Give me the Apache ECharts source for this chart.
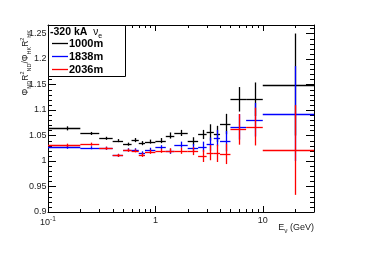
<!DOCTYPE html>
<html>
<head>
<meta charset="utf-8">
<script src="https://cdn.jsdelivr.net/npm/echarts@6/dist/echarts.min.js"></script>
<style>html,body{margin:0;padding:0;background:#fff}#c{width:374px;height:253px}</style>
</head>
<body>
<div id="c"></div>
<script>
// ---- data ----
const binLow    = [0.1,0.2,0.3,0.4,0.5,0.6,0.7,0.8,1.0,1.25,1.5,2.0,2.5,3.0,3.5,4.0,5.0,7.0,10];
const binHigh   = [0.2,0.3,0.4,0.5,0.6,0.7,0.8,1.0,1.25,1.5,2.0,2.5,3.0,3.5,4.0,5.0,7.0,10,30];
const binCenter = [0.15,0.25,0.35,0.45,0.55,0.65,0.75,0.9,1.125,1.375,1.75,2.25,2.75,3.25,3.75,4.5,6,8.5,20];

const seriesNames = ['1000m','1838m','2036m'];
const val1000 = [1.064,1.054,1.0445,1.040,1.033,1.041,1.035,1.038,1.040,1.050,1.055,1.0386,1.052,1.056,1.053,1.0725,1.121,1.121,1.150];
const err1000 = [0.004,0.003,0.003,0.003,0.003,0.004,0.004,0.004,0.005,0.006,0.006,0.008,0.009,0.016,0.016,0.020,0.024,0.033,0.100];
const val1838 = [1.027,1.026,1.025,1.011,1.022,1.022,1.015,1.022,1.027,1.019,1.032,1.0255,1.028,1.033,1.045,1.039,1.067,1.081,1.093];
const err1838 = [0.003,0.003,0.003,0.003,0.003,0.003,0.004,0.004,0.004,0.005,0.006,0.008,0.010,0.013,0.016,0.020,0.025,0.033,0.093];
const val2036 = [1.031,1.033,1.025,1.011,1.021,1.020,1.012,1.018,1.020,1.020,1.020,1.0196,1.010,1.0165,1.015,1.014,1.062,1.0675,1.0216];
const err2036 = [0.003,0.003,0.003,0.003,0.003,0.003,0.004,0.004,0.004,0.005,0.006,0.008,0.012,0.015,0.017,0.020,0.030,0.037,0.088];

const xMin = 0.1, xMax = 30;
const yMin = 0.9, yMax = 1.2667, yStep = 0.05;
const xMinorTicks = [0.2,0.3,0.4,0.5,0.6,0.7,0.8,0.9,2,3,4,5,6,7,8,9,20];
const yMinorTicks = [0.91,0.92,0.93,0.94,0.96,0.97,0.98,0.99,1.01,1.02,1.03,1.04,1.06,1.07,1.08,1.09,
                     1.11,1.12,1.13,1.14,1.16,1.17,1.18,1.19,1.21,1.22,1.23,1.24,1.26];

const legendHeader = '-320 kA';
const xTitle = 'E';
const FONT = 'Liberation Sans, Arial, Helvetica, sans-serif';

// ---- build ----
function mk(vals, errs){ return vals.map((v,i)=>[binLow[i],binHigh[i],binCenter[i],v,errs[i]]); }
function errRender(color){
  return function(params, api){
    const lo=api.value(0), hi=api.value(1), c=api.value(2), y=api.value(3), e=api.value(4);
    const pL=api.coord([lo,y]), pH=api.coord([hi,y]), pT=api.coord([c,y+e]), pB=api.coord([c,y-e]);
    const yy = Math.round(pL[1]) + 0.5, xx = Math.round(pT[0]) + 0.5;
    return {type:'group', children:[
      {type:'line', shape:{x1:pL[0],y1:yy,x2:pH[0],y2:yy}, style:{stroke:color,lineWidth:1.3}},
      {type:'line', shape:{x1:xx,y1:pT[1],x2:xx,y2:pB[1]}, style:{stroke:color,lineWidth:1.3}}
    ]};
  };
}
function errSeries(name, vals, errs, color, z){
  return {type:'custom', name, data:mk(vals,errs), renderItem:errRender(color),
    encode:{x:[0,1,2], y:[3]}, z, silent:true, clip:true};
}

const chart = echarts.init(document.getElementById('c'), null, {renderer:'canvas'});
const axisLine = {show:true, lineStyle:{color:'#000', width:1}};
chart.setOption({
  animation:false,
  backgroundColor:'#fff',
  grid:{left:48, top:25, right:60, bottom:41, show:false},
  xAxis:[
    {type:'log', logBase:10, min:xMin, max:xMax, position:'bottom',
     axisLine, splitLine:{show:false},
     axisTick:{show:true, inside:true, length:6, lineStyle:{color:'#000'}},
     axisLabel:{show:true, margin:4, color:'#222', fontFamily:FONT, fontSize:9, showMaxLabel:false,
       formatter:function(v){ if (v < 0.5) return '10{sup|-1}'; return String(Math.round(v)); },
       rich:{sup:{fontSize:6.5, verticalAlign:'top', fontFamily:FONT, color:'#222', padding:[0,0,6,0]}}}},
    {type:'log', logBase:10, min:xMin, max:xMax, position:'top',
     axisLine, splitLine:{show:false},
     axisTick:{show:true, inside:true, length:6, lineStyle:{color:'#000'}},
     axisLabel:{show:false}}
  ],
  yAxis:[
    {type:'value', min:yMin, max:yMax, interval:yStep, position:'left',
     axisLine, splitLine:{show:false},
     axisTick:{show:true, inside:true, length:8, lineStyle:{color:'#000'}},
     axisLabel:{show:true, margin:1.5, color:'#222', fontFamily:FONT, fontSize:9, showMaxLabel:false,
       formatter:function(v){ return String(+v.toFixed(2)); }}},
    {type:'value', min:yMin, max:yMax, interval:yStep, position:'right',
     axisLine, splitLine:{show:false},
     axisTick:{show:true, inside:true, length:8, lineStyle:{color:'#000'}},
     axisLabel:{show:false}}
  ],
  series:[
    {type:'custom', name:'xminor', data:xMinorTicks.map(v=>[v,1]), silent:true, z:5,
     encode:{x:0,y:1},
     renderItem:function(params, api){
       const p = api.coord([api.value(0), 1]); const cs = params.coordSys;
       const x = Math.round(p[0]) + 0.5, yb = cs.y + cs.height, yt = cs.y;
       return {type:'group', children:[
         {type:'line', shape:{x1:x,y1:yb,x2:x,y2:yb-3}, style:{stroke:'#000',lineWidth:1}},
         {type:'line', shape:{x1:x,y1:yt,x2:x,y2:yt+3}, style:{stroke:'#000',lineWidth:1}}]};
     }},
    {type:'custom', name:'yminor', data:yMinorTicks.map(v=>[1,v]), silent:true, z:5,
     encode:{x:0,y:1},
     renderItem:function(params, api){
       const p = api.coord([1, api.value(1)]); const cs = params.coordSys;
       const y = Math.round(p[1]) + 0.5, xl = cs.x, xr = cs.x + cs.width;
       return {type:'group', children:[
         {type:'line', shape:{x1:xl,y1:y,x2:xl+4,y2:y}, style:{stroke:'#000',lineWidth:1}},
         {type:'line', shape:{x1:xr,y1:y,x2:xr-4,y2:y}, style:{stroke:'#000',lineWidth:1}}]};
     }},
    errSeries(seriesNames[0], val1000, err1000, '#000000', 10),
    errSeries(seriesNames[1], val1838, err1838, '#0000ff', 11),
    errSeries(seriesNames[2], val2036, err2036, '#ff0000', 12)
  ],
  graphic:[
    {type:'rect', shape:{x:48.5, y:25.5, width:77, height:51}, style:{fill:'#fff', stroke:'#000', lineWidth:1}, z:100},
    {type:'text', x:50, y:32, z:101, style:{text:legendHeader+'  {nu|ν}{sub|e}', fill:'#000',
      font:'bold 10.5px '+FONT, verticalAlign:'middle',
      rich:{nu:{fontSize:10, fontWeight:'normal', fontFamily:FONT, fill:'#000'},
            sub:{fontSize:7, fontWeight:'normal', fontFamily:FONT, fill:'#000', verticalAlign:'bottom', lineHeight:16}}}},
    {type:'line', z:101, shape:{x1:52, y1:43.5, x2:68, y2:43.5}, style:{stroke:'#000', lineWidth:1.3}},
    {type:'line', z:101, shape:{x1:52, y1:56.5, x2:68, y2:56.5}, style:{stroke:'#0000ff', lineWidth:1.3}},
    {type:'line', z:101, shape:{x1:52, y1:69.5, x2:68, y2:69.5}, style:{stroke:'#ff0000', lineWidth:1.3}},
    {type:'text', x:69, y:43.5, z:101, style:{text:seriesNames[0], fill:'#000', font:'bold 11px '+FONT, verticalAlign:'middle'}},
    {type:'text', x:69, y:56.5, z:101, style:{text:seriesNames[1], fill:'#000', font:'bold 11px '+FONT, verticalAlign:'middle'}},
    {type:'text', x:69, y:69.5, z:101, style:{text:seriesNames[2], fill:'#000', font:'bold 11px '+FONT, verticalAlign:'middle'}},
    {type:'text', x:314, y:228, z:101, style:{text:xTitle+'{sub|ν} (GeV)', fill:'#222', font:'9px '+FONT,
      align:'right', verticalAlign:'middle',
      rich:{sub:{fontSize:6.5, fontFamily:FONT, fill:'#222', verticalAlign:'bottom', lineHeight:13}}}},
    {type:'text', x:26, y:30, rotation:Math.PI/2, z:101, style:{
      text:'Φ{sub|ND}R{sup|2}{sub|ND}/Φ{sub|HK}R{sup|2}{sub|HK}', fill:'#222', font:'8.5px '+FONT,
      align:'right', verticalAlign:'middle',
      rich:{sub:{fontSize:5.5, fontFamily:FONT, fill:'#222', verticalAlign:'bottom', lineHeight:13},
            sup:{fontSize:5.5, fontFamily:FONT, fill:'#222', verticalAlign:'top', lineHeight:13}}}}
  ]
});
</script>
</body>
</html>
